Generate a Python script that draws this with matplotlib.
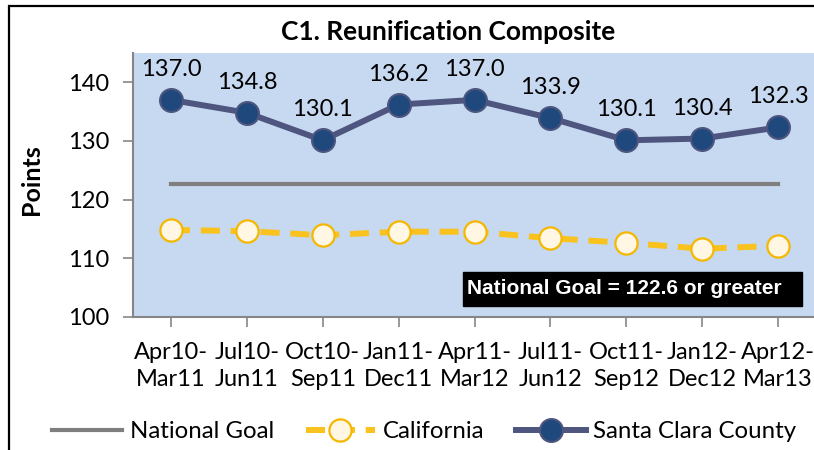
import matplotlib
matplotlib.use("Agg")
import matplotlib.pyplot as plt
from matplotlib.patches import Rectangle

plt.rcParams['font.family'] = ['Lato', 'DejaVu Sans']

categories = ["Apr10-\nMar11", "Jul10-\nJun11", "Oct10-\nSep11", "Jan11-\nDec11",
              "Apr11-\nMar12", "Jul11-\nJun12", "Oct11-\nSep12", "Jan12-\nDec12",
              "Apr12-\nMar13"]
santa_clara = [137.0, 134.8, 130.1, 136.2, 137.0, 133.9, 130.1, 130.4, 132.3]
california = [114.8, 114.6, 113.9, 114.5, 114.5, 113.4, 112.6, 111.6, 112.1]
national_goal = [122.6] * 9
yticks = [100, 110, 120, 130, 140]

W, H = 814, 450
fig = plt.figure(figsize=(W / 100, H / 100), dpi=100)
ax = fig.add_axes([133 / W, 1 - 316.7 / H, (816 - 133) / W, (316.7 - 53) / H])
ax.set_facecolor('#C6D9F1')

x = list(range(len(categories)))
ax.plot(x, national_goal, color='#7F7F7F', lw=3, label='National Goal', zorder=2)
cal, = ax.plot(x, california, color='#F9C21E', lw=4.3, marker='o', markersize=16,
               markerfacecolor='#FFF7E4', markeredgecolor='#F5B700', markeredgewidth=1.6,
               label='California', zorder=3)
cal.set_dashes((3.2, 1.8))
ax.plot(x, santa_clara, color='#4E557F', lw=4.3, marker='o', markersize=16.5,
        markerfacecolor='#1F497D', markeredgecolor='#4E557F', markeredgewidth=1.5,
        label='Santa Clara County', zorder=4)

for xi, v in zip(x, santa_clara):
    ax.annotate(f"{v:.1f}", (xi, v), xytext=(0, 22), textcoords='offset points',
                ha='center', va='center', fontsize=17, color='black', zorder=5)

ax.set_xlim(-0.5, 8.5)
ax.set_ylim(100, 145)
ax.set_yticks(yticks)
ax.set_xticks(x)
ax.set_xticklabels(categories, fontsize=17, linespacing=1.4)
ax.tick_params(axis='y', labelsize=17, length=7, width=1.2, color='#868686', pad=10)
ax.tick_params(axis='x', length=7, width=1.2, color='#868686', pad=11)
for s in ['top', 'right']:
    ax.spines[s].set_visible(False)
for s in ['left', 'bottom']:
    ax.spines[s].set_color('#868686')
    ax.spines[s].set_linewidth(1.5)

ax.set_ylabel('Points', fontsize=18, fontweight='bold')
ax.yaxis.set_label_coords(-0.132, 0.52)

# annotation box
ax.add_patch(Rectangle((3.842, 101.83), 8.316 - 3.842, 107.63 - 101.83,
                       facecolor='black', edgecolor='black', zorder=6))
ax.text(3.895, 104.73, 'National Goal = 122.6 or greater', ha='left', va='center',
        fontsize=15, fontweight='bold', color='white',
        family=['Liberation Sans', 'DejaVu Sans'], zorder=7)

fig.text(448 / W, 1 - 32 / H, 'C1. Reunification Composite', ha='center', va='center',
         fontsize=19, fontweight='bold')

fig.legend(loc='center', bbox_to_anchor=(424.5 / W, 1 - 432 / H), ncol=3, frameon=False,
           fontsize=17.3, handlelength=2.9, handletextpad=0.33, columnspacing=1.3)

fig.add_artist(Rectangle((8.5 / W, -0.1), 2, 1.1 - 6 / H, transform=fig.transFigure,
                         fill=False, edgecolor='black', lw=1.6))

fig.savefig('out.png', dpi=100)
